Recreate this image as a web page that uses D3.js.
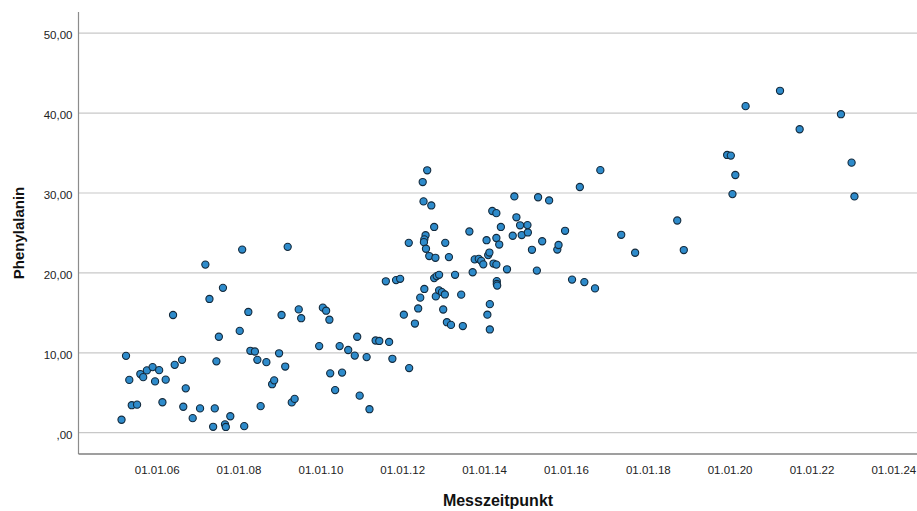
<!DOCTYPE html>
<html><head><meta charset="utf-8">
<script src="https://cdn.jsdelivr.net/npm/d3@7"></script>
<style>body{margin:0;background:#fff}svg{display:block}</style>
</head><body>
<svg id="c" width="917" height="511"></svg>
<script>
// Measurement time (decimal years) and Phenylalanin values
const measureYears = [
2005.14,2005.25,2005.33,2005.39,2005.52,2005.60,2005.67,2005.76,2005.90,2005.96,
2006.06,2006.14,2006.22,2006.40,2006.44,2006.62,2006.71,2006.65,2006.88,2007.06,
2007.19,2007.29,2007.38,2007.42,2007.46,2007.52,2007.62,2007.67,2007.69,2007.80,
2008.03,2008.09,2008.14,2008.24,2008.29,2008.40,2008.46,2008.54,2008.68,2008.82,
2008.87,2008.99,2009.05,2009.14,2009.20,2009.30,2009.37,2009.47,2009.53,2009.97,
2010.06,2010.14,2010.22,2010.24,2010.36,2010.47,2010.53,2010.68,2010.84,2010.90,
2010.96,2011.13,2011.20,2011.35,2011.44,2011.60,2011.68,2011.76,2011.85,2011.95,
2012.04,2012.17,2012.16,2012.31,2012.39,2012.44,2012.50,2012.52,2012.54,2012.57,
2012.54,2012.53,2012.58,2012.61,2012.66,2012.71,2012.78,2012.81,2012.78,2012.84,
2012.90,2012.82,2012.90,2012.97,2013.04,2013.00,2013.05,2013.09,2013.19,2013.14,
2013.29,2013.44,2013.48,2013.64,2013.72,2013.77,2013.87,2013.93,2013.98,2014.06,
2014.08,2014.10,2014.13,2014.14,2014.14,2014.20,2014.23,2014.30,2014.30,2014.30,
2014.37,2014.31,2014.31,2014.32,2014.41,2014.56,2014.70,2014.74,2014.79,2014.88,
2014.92,2015.06,2015.07,2015.17,2015.29,2015.32,2015.42,2015.59,2015.79,2015.82,
2015.98,2016.15,2016.34,2016.45,2016.71,2016.84,2017.35,2017.69,2018.72,2018.88,
2019.94,2020.03,2020.07,2020.14,2020.39,2021.23,2021.71,2022.72,2022.98,2023.05
];
const phenylalanin = [
1.62,9.62,6.61,3.44,3.51,7.34,6.95,7.80,8.21,6.42,
7.83,3.81,6.64,14.73,8.49,9.12,5.55,3.25,1.82,3.04,
21.04,16.74,0.74,3.04,8.93,12.01,18.13,1.05,0.72,2.06,
12.74,22.92,0.82,15.11,10.25,10.16,9.12,3.32,8.83,6.07,
6.55,9.94,14.73,8.28,23.26,3.79,4.23,15.43,14.33,10.84,
15.65,15.27,14.14,7.43,5.33,10.84,7.52,10.35,9.65,12.01,
4.64,9.46,2.94,11.54,11.48,18.95,11.36,9.25,19.10,19.26,
14.77,8.09,23.76,13.66,15.55,16.90,31.37,28.95,17.99,24.71,
24.20,23.85,23.02,32.84,22.11,28.44,25.75,21.89,19.35,19.60,
19.76,17.06,17.82,17.59,17.30,15.42,23.76,13.83,13.49,21.98,
19.76,17.28,13.35,25.18,20.08,21.69,21.76,21.51,21.07,24.09,
14.77,22.23,22.55,16.09,12.92,27.75,21.17,21.04,27.48,24.37,
23.55,18.97,18.62,18.41,25.75,20.45,24.65,29.57,26.96,25.96,
24.74,25.98,25.06,22.89,20.29,29.47,23.96,29.07,22.92,23.49,
25.27,19.16,30.75,18.85,18.06,32.86,24.77,22.52,26.56,22.86,
34.76,34.68,29.86,32.25,40.87,42.79,37.98,39.86,33.80,29.57
];
const yTickValues = [0, 10, 20, 30, 40, 50];
const xTickYears = [2006, 2008, 2010, 2012, 2014, 2016, 2018, 2020, 2022, 2024];
const xTitle = "Messzeitpunkt";
const yTitle = "Phenylalanin";

function yearToDate(d) {
  const y = Math.floor(d);
  const s = Date.UTC(y, 0, 1), e = Date.UTC(y + 1, 0, 1);
  return new Date(s + (d - y) * (e - s));
}

const svg = d3.select("#c");
const L = 78.5, R = 917, T = 12, B = 454;

const x = d3.scaleUtc()
  .domain([new Date(Date.UTC(2006,0,1)), new Date(Date.UTC(2024,0,1))])
  .range([156.7, 893.3]);
const y = d3.scaleLinear().domain([0, 50]).range([432.7, 33.2]);

// gridlines
svg.append("g").selectAll("line").data(yTickValues).join("line")
  .attr("x1", L).attr("x2", R)
  .attr("y1", d => y(d)).attr("y2", d => y(d))
  .attr("stroke", "#c8c8c8").attr("stroke-width", 1.2);

// axis lines
svg.append("line").attr("x1", L).attr("x2", L).attr("y1", T).attr("y2", B)
  .attr("stroke", "#8c8c8c").attr("stroke-width", 1.2);
svg.append("line").attr("x1", L).attr("x2", R).attr("y1", B).attr("y2", B)
  .attr("stroke", "#7f7f7f").attr("stroke-width", 1.5);

const fmtY = v => v === 0 ? ",00" : v.toFixed(2).replace(".", ",");
const fmtX = d3.utcFormat("%d.%m.%y");

const yAxis = svg.append("g").attr("transform", `translate(${L},0)`)
  .call(d3.axisLeft(y).tickValues(yTickValues).tickSize(0).tickPadding(6).tickFormat(fmtY));
yAxis.select(".domain").remove();
yAxis.selectAll("text").attr("dy", "0.5em")
  .style("font-family", "Liberation Sans, Arial, sans-serif").style("font-size", "11.5px").attr("fill", "#222");

const xAxis = svg.append("g").attr("transform", `translate(0,${B})`)
  .call(d3.axisBottom(x).tickValues(xTickYears.map(v => new Date(Date.UTC(v,0,1))))
    .tickSize(0).tickPadding(11.5).tickFormat(fmtX));
xAxis.select(".domain").remove();
xAxis.selectAll("text")
  .style("font-family", "Liberation Sans, Arial, sans-serif").style("font-size", "11.5px").attr("fill", "#222");

// points
svg.append("g").selectAll("circle").data(measureYears.map((d, i) => [yearToDate(d), phenylalanin[i]]))
  .join("circle")
  .attr("cx", d => x(d[0])).attr("cy", d => y(d[1]))
  .attr("r", 3.6)
  .attr("fill", "#2e8bcb").attr("stroke", "#13293b").attr("stroke-width", 1.1);

// titles
svg.append("text").attr("x", 498).attr("y", 506).attr("text-anchor", "middle")
  .style("font-family", "Liberation Sans, Arial, sans-serif").style("font-size", "16px")
  .style("font-weight", "bold").attr("fill", "#111").text(xTitle);
svg.append("text").attr("transform", "translate(24,233) rotate(-90)").attr("text-anchor", "middle")
  .style("font-family", "Liberation Sans, Arial, sans-serif").style("font-size", "15px")
  .style("font-weight", "bold").attr("fill", "#111").text(yTitle);
</script>
</body></html>
